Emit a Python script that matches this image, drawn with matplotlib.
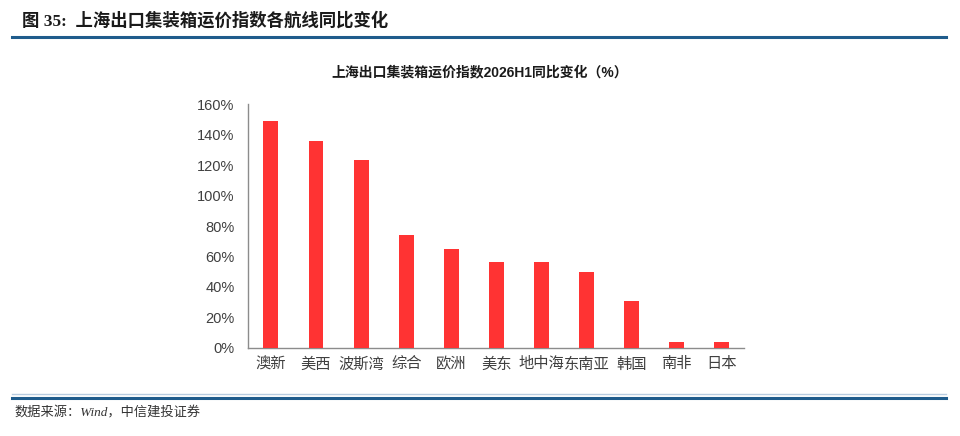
import matplotlib
matplotlib.use('Agg')
import matplotlib.pyplot as plt
from matplotlib.lines import Line2D
from matplotlib.ticker import FuncFormatter
import numpy as np

plt.rcParams['font.family'] = ['Liberation Sans', 'Noto Sans CJK SC', 'DejaVu Sans']

# routes and year-on-year change of the index, 2026H1 (%)
routes = ['澳新', '美西', '波斯湾', '综合', '欧洲', '美东', '地中海', '东南亚', '韩国', '南非', '日本']
yoy_pct = [149, 136, 123.5, 74, 65, 56.5, 56.5, 49.5, 30.5, 3.5, 3.5]
y_ticks = [0, 20, 40, 60, 80, 100, 120, 140, 160]

fig = plt.figure(figsize=(9.6, 4.36), dpi=100)

# page header / footer
fig.text(0.023, 0.953, '图 35:  上海出口集装箱运价指数各航线同比变化', fontsize=12.5,
         fontweight='bold', color='#1a1a1a', va='center',
         family=['Liberation Serif', 'Noto Sans CJK SC'])
fig.add_artist(Line2D([0.0125, 0.985], [0.915, 0.915], color='#1F5C8C', lw=2.2))
fig.add_artist(Line2D([0.0125, 0.985], [0.088, 0.088], color='#1F5C8C', lw=2.2))
fig.add_artist(Line2D([0.0125, 0.985], [0.0955, 0.0955], color='#B8CCE0', lw=1.0))
fig.text(0.015, 0.052, '数据来源：Wind，中信建投证券', fontsize=9.5, style='italic',
         color='#333333', va='center', family=['Liberation Serif', 'Noto Sans CJK SC'])

fig.text(0.5, 0.833, '上海出口集装箱运价指数2026H1同比变化（%）', fontsize=10,
         fontweight='bold', color='#1a1a1a', ha='center', va='center',
         family=['Liberation Sans', 'Noto Sans CJK SC'])

ax = fig.add_axes([0.2587, 0.2025, 0.5167, 0.558])
x = np.arange(len(routes))
ax.bar(x, yoy_pct, width=0.33, color='#FF3333', zorder=3)

ax.set_xlim(-0.5, len(routes) - 0.5)
ax.set_ylim(0, 160)
ax.set_yticks(y_ticks)
ax.yaxis.set_major_formatter(FuncFormatter(lambda v, p: f'{v:.0f}%'))
ax.set_xticks(x)
ax.set_xticklabels(routes, fontsize=11, color='#404040')
ax.tick_params(axis='y', labelsize=10.5, labelcolor='#404040', length=0, pad=10)
ax.tick_params(axis='x', length=0, pad=7)

for side in ['top', 'right']:
    ax.spines[side].set_visible(False)
for side in ['left', 'bottom']:
    ax.spines[side].set_color('#8C8C8C')
    ax.spines[side].set_linewidth(1.0)

fig.savefig('out.png', dpi=100)
